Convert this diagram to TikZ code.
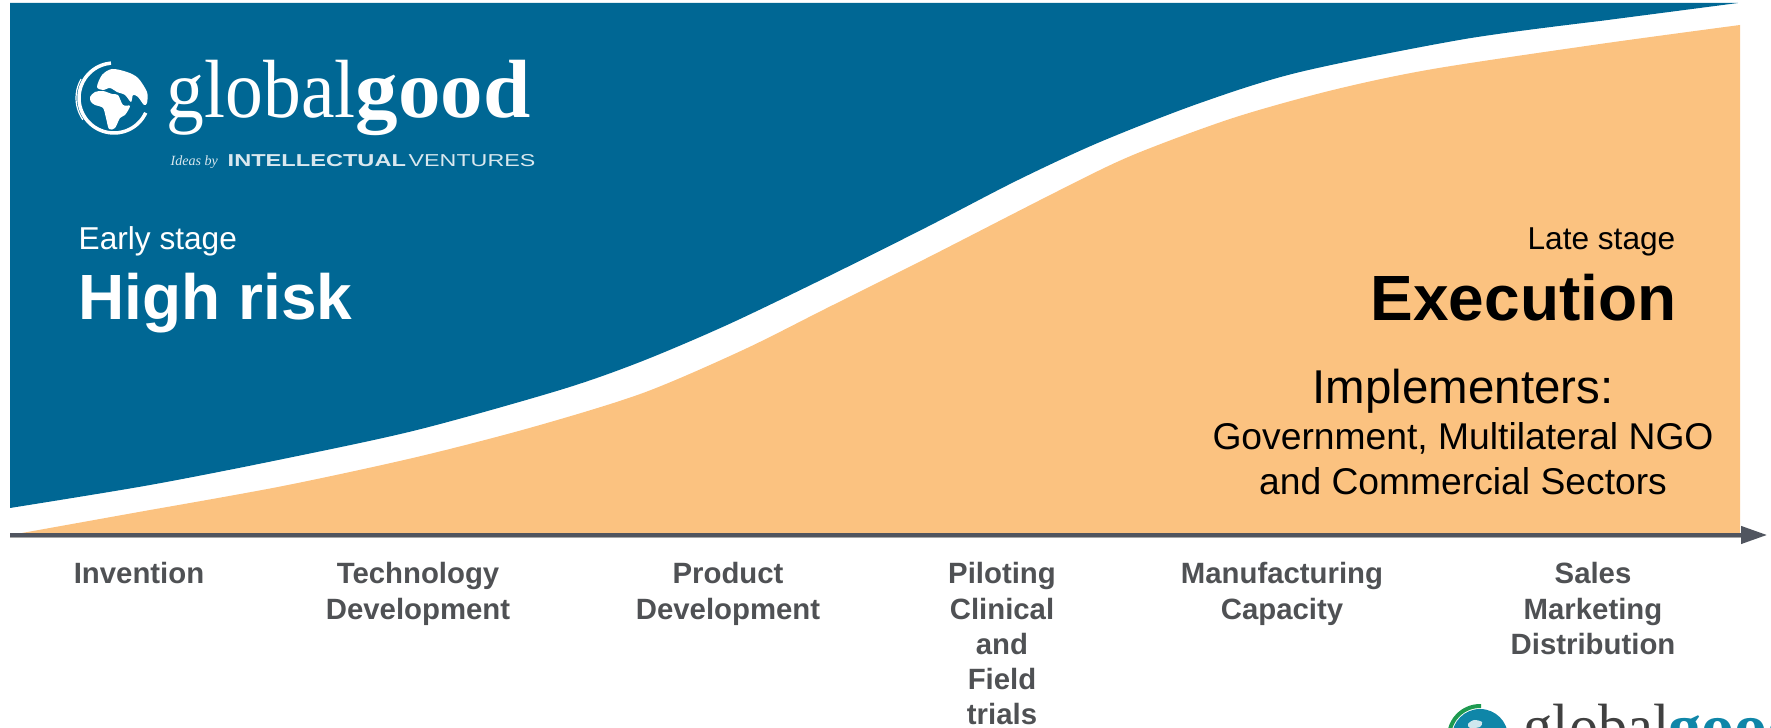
\documentclass[tikz,border=0pt]{standalone}
\usepackage{fontspec}
\usepackage{tikz}
\usetikzlibrary{arrows.meta}
\setmainfont{Liberation Sans}
\newfontfamily\serifname{Liberation Serif}

\definecolor{bandblue}{HTML}{006794}
\definecolor{bandorange}{HTML}{FBC280}
\definecolor{axisgray}{HTML}{50555F}
\definecolor{labelgray}{HTML}{4F5154}
\definecolor{logoteal}{HTML}{0F86A8}
\definecolor{logogreen}{HTML}{1E9A50}

\tikzset{
    stagelabel/.style={inner sep=0, font=\fontsize{9}{11}\selectfont},
    risklabel/.style={inner sep=0, font=\fontsize{18.2}{22}\selectfont\bfseries},
    phaselabel/.style={inner sep=0, anchor=north, align=center, text=labelgray, font=\fontsize{8.35}{10}\selectfont\bfseries},
    sectorlabel/.style={inner sep=0, anchor=north, align=center, font=\fontsize{10.6}{12.8}\selectfont},
    logoword/.style={inner sep=0, anchor=base west, font=\serifname\fontsize{23.5}{25}\selectfont},
    logosmall/.style={inner sep=0, anchor=base west, text=white!85!bandblue, font=\fontsize{4.9}{5}\selectfont}
}

\begin{document}
\begin{tikzpicture}[x=0.1mm, y=-0.1mm]
    \useasboundingbox (0, 0) rectangle (1771, 728);
    \clip (0, 0) rectangle (1771, 728);

    \fill [bandblue] (10, 3) -- (1738, 3) -- plot [smooth] coordinates {(1600, 21) (1465, 39) (1300, 72) (1200, 103) (1100, 142) (1018, 180) (927, 227) (827, 277) (727, 325) (640, 362) (560, 390) (417, 430) (283, 459) (150, 485) (10, 508)} -- cycle;
    \fill [bandorange] (22, 533) -- plot [smooth] coordinates {(150, 510) (283, 486) (417, 457) (533, 427) (643, 393) (743, 350) (827, 308) (927, 258) (1060, 190) (1133, 155) (1233, 118) (1333, 90) (1433, 69) (1600, 44) (1740, 25)} -- (1740, 533) -- cycle;

    % time axis
    \coordinate (axisstart) at (10, 535);
    \coordinate (axisend) at (1767, 535);
    \draw [line width=1.5*0.2845pt, black!35] (10, 537) -- (1741, 537);
    \draw [-{Triangle[length=7.4pt, width=4.9pt]}, line width=3.5*0.2845pt, axisgray] (axisstart) -- (axisend);

    \node [stagelabel, anchor=west, text=white] (earlystage) at (78, 241) {Early stage};
    \node [risklabel, anchor=west, text=white] (highrisk) at (78, 303) {High risk};
    \node [stagelabel, anchor=east] (latestage) at (1676, 242) {Late stage};
    \node [risklabel, anchor=east] (execution) at (1677, 298) {Execution};
    \node [inner sep=0, font=\fontsize{13.5}{16}\selectfont] (implementers) at (1463, 391) {Implementers:};
    \node [sectorlabel] (sectors) at (1463, 422) {Government, Multilateral NGO\\and Commercial Sectors};

    \node [phaselabel] (invention) at (139, 562) {Invention};
    \node [phaselabel] (technology) at (418, 562) {Technology\\Development};
    \node [phaselabel] (product) at (728, 562) {Product\\Development};
    \node [phaselabel] (piloting) at (1002, 562) {Piloting\\Clinical\\and\\Field\\trials};
    \node [phaselabel] (manufacturing) at (1282, 562) {Manufacturing\\Capacity};
    \node [phaselabel] (sales) at (1593, 562) {Sales\\Marketing\\Distribution};

    % top logo
    \draw [white, line width=3.5*0.2845pt] plot [smooth, domain=95:335, samples=30] ({114+35*cos(\x)}, {98-35*sin(\x)});
    \draw [white, line width=1.2*0.2845pt] plot [smooth, domain=150:215, samples=12] ({114+38*cos(\x)}, {98-38*sin(\x)});
    \fill [white] plot [smooth cycle] coordinates {(102, 75) (112, 69) (127, 72) (138, 78) (147, 92) (147, 103) (144, 105) (138, 97) (133, 95) (131, 102) (125, 95) (117, 92) (110, 88) (103, 90) (97, 87)};
    \fill [white] plot [smooth cycle] coordinates {(90, 97) (95, 92) (103, 91) (112, 94) (118, 95) (123, 105) (130, 106) (125, 115) (120, 118) (115, 128) (109, 129) (106, 118) (103, 108) (95, 105) (91, 102)};
    \node [logoword, text=white] (logoglobal) at (166, 118) {\scalebox{0.915}[1]{global}};
    \node [logoword, text=white] (logogood) at (355, 118) {\scalebox{1.03}[1]{\bfseries good}};
    \node [logosmall, font=\serifname\itshape\fontsize{4}{5}\selectfont] (logoideas) at (170, 166) {Ideas by};
    \node [logosmall] (logoiv) at (227, 167) {\scalebox{1.37}[1]{\bfseries INTELLECTUAL}};
    \node [logosmall] (logoventures) at (408, 167) {\scalebox{1.35}[1]{VENTURES}};

    % bottom logo, cut by the page edge
    \fill [logoteal] (1480, 737) circle [radius=28];
    \draw [logogreen, line width=4*0.2845pt] plot [smooth, domain=88:165, samples=12] ({1480+31*cos(\x)}, {737-31*sin(\x)});
    \fill [white!80!logoteal] plot [smooth cycle] coordinates {(1468, 724) (1474, 720) (1482, 722) (1480, 727) (1470, 728)};
    \node [logoword, font=\serifname\fontsize{18.2}{20}\selectfont, text=black!75] (footglobal) at (1523, 749) {\scalebox{0.915}[1]{global}};
    \node [logoword, font=\serifname\fontsize{18.2}{20}\selectfont, text=logoteal] (footgood) at (1668, 749) {\scalebox{1.03}[1]{\bfseries good}};
\end{tikzpicture}
\end{document}
